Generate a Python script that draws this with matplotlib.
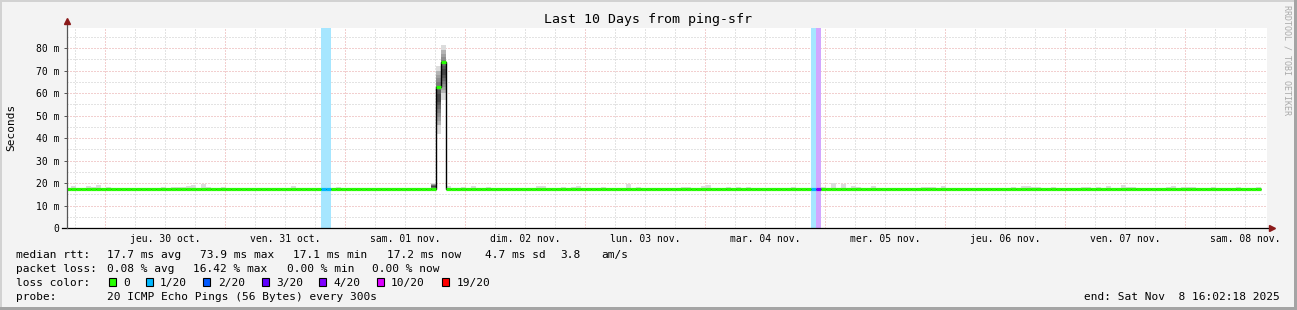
import numpy as np
import matplotlib.pyplot as plt
from matplotlib.patches import Rectangle
from matplotlib.colors import to_rgb

W, H = 1297, 310
MONO = 'DejaVu Sans Mono'

# --- data (one bin per hour, first partial bin starts at the left edge) ---
FIRST_BIN_H = 0.8      # hours from left edge to first full bin
MIDNIGHT_H = 7.6       # hours from left edge to first midnight

median = [17.3] * 74 + [62.8, 74.0] + [17.3] * 163

smoke_lo = [17.0] * 73 + [16.8, 42.0, 57.0] + [17.0] * 163
smoke_hi = [
    17.6, 18.7, 17.6, 17.6, 18.7, 18.3, 19.1, 17.6, 18.3, 17.6, 17.8, 17.8,
    17.6, 17.6, 17.6, 17.6, 17.6, 17.6, 17.6, 18.3, 17.6, 18.3, 18.3, 18.3,
    18.7, 19.1, 17.6, 19.6, 18.3, 17.6, 17.6, 18.3, 17.6, 17.6, 17.6, 17.6,
    17.6, 17.6, 17.6, 17.6, 17.6, 17.8, 17.8, 17.8, 17.6, 18.7, 17.8, 17.8,
    17.8, 17.6, 17.6, 17.6, 17.6, 17.6, 18.3, 17.6, 17.8, 17.6, 17.6, 17.6,
    17.6, 17.6, 17.6, 17.6, 17.8, 17.6, 17.8, 17.6, 17.8, 17.6, 17.8, 17.6,
    17.6, 20.2, 72.0, 81.5, 18.7, 17.6, 17.6, 18.3, 17.6, 18.7, 17.8, 17.8,
    18.3, 17.6, 17.6, 17.8, 17.6, 17.6, 17.8, 17.6, 17.6, 17.6, 18.7, 18.7,
    17.6, 17.6, 17.6, 18.3, 17.6, 18.3, 18.7, 17.6, 17.6, 17.6, 17.6, 18.3,
    17.6, 17.6, 17.6, 17.8, 19.6, 17.6, 18.3, 17.8, 17.6, 17.6, 17.6, 17.6,
    17.6, 17.6, 17.6, 18.3, 18.3, 17.6, 17.6, 18.7, 19.1, 17.6, 17.6, 17.8,
    18.3, 17.6, 18.3, 17.6, 18.3, 17.6, 17.6, 17.8, 17.6, 17.6, 17.8, 17.8,
    17.6, 18.3, 17.6, 17.6, 17.6, 17.6, 17.6, 18.3, 17.6, 20.0, 17.8, 19.6,
    17.6, 18.7, 18.3, 17.8, 17.8, 18.7, 17.6, 17.8, 17.6, 17.8, 17.8, 17.6,
    17.8, 17.6, 17.6, 18.3, 18.3, 18.3, 17.6, 18.7, 17.6, 17.6, 17.8, 17.8,
    17.6, 17.6, 17.8, 17.6, 17.6, 17.8, 17.6, 17.8, 17.6, 18.3, 17.6, 18.7,
    18.7, 18.3, 18.3, 17.6, 17.6, 18.3, 17.6, 17.6, 17.6, 17.6, 17.6, 18.3,
    18.3, 17.6, 18.3, 17.6, 18.7, 17.6, 17.6, 19.1, 18.3, 18.3, 17.6, 17.6,
    17.6, 17.6, 17.6, 17.6, 18.3, 18.7, 17.6, 18.3, 18.3, 18.3, 17.6, 17.8,
    17.6, 18.3, 17.6, 17.8, 17.8, 17.6, 18.3, 17.6, 17.6, 17.6, 18.3,
]
# dense part of the smoke (only the spike has a real spread)
core_lo = [17.3] * 73 + [17.2, 46.0, 60.0] + [17.3] * 163
core_hi = [17.3] * 73 + [19.6, 70.0, 79.0] + [17.3] * 163

loss = [0] * 51 + [1, 1] + [0] * 96 + [1, 4] + [0] * 88

LOSS_STEPS = [0, 1, 2, 3, 4, 10, 19]
LOSS_LABELS = ['0', '1/20', '2/20', '3/20', '4/20', '10/20', '19/20']
LOSS_COLORS = ['#26ff00', '#00b8ff', '#0059ff', '#5e00ff', '#7e00ff', '#dd00ff', '#ff0000']

DAY_LABELS = ['jeu. 30 oct.', 'ven. 31 oct.', 'sam. 01 nov.', 'dim. 02 nov.',
              'lun. 03 nov.', 'mar. 04 nov.', 'mer. 05 nov.', 'jeu. 06 nov.',
              'ven. 07 nov.', 'sam. 08 nov.']
Y_TICKS = [0, 10, 20, 30, 40, 50, 60, 70, 80]
Y_LABELS = ['0', '10 m', '20 m', '30 m', '40 m', '50 m', '60 m', '70 m', '80 m']


def fx(px):
    return px / W


def fy(py):
    return 1 - py / H


def loss_color(v):
    idx = max(i for i, s in enumerate(LOSS_STEPS) if v >= s)
    return LOSS_COLORS[idx]


def light(c, a=0.35):
    r, g, b = to_rgb(c)
    return (1 - a + a * r, 1 - a + a * g, 1 - a + a * b)


median = np.array(median)
smoke_lo = np.array(smoke_lo)
smoke_hi = np.array(smoke_hi)
core_lo = np.array(core_lo)
core_hi = np.array(core_hi)
edges = np.concatenate([[0.0], FIRST_BIN_H + np.arange(len(median))])
left = edges[:-1]
width = np.diff(edges)

fig = plt.figure(figsize=(W / 100, H / 100), dpi=100, facecolor='#f3f3f3')
ax = fig.add_axes([fx(67), 82 / H, 1200 / W, 200 / H])
ax.set_facecolor('white')
ax.set_xlim(0, 240)
ax.set_ylim(0, 89.0)
for sp in ax.spines.values():
    sp.set_visible(False)

# grid
dots = (0, (1, 2))
for y in np.arange(5, 89, 10):
    ax.axhline(y, color='#c8c8c8', lw=0.72, ls=dots, zorder=0)
for y in Y_TICKS[1:]:
    ax.axhline(y, color='#e6a0a0', lw=0.72, ls=dots, zorder=0)
midnights = MIDNIGHT_H + 24 * np.arange(10)
for x in np.arange(MIDNIGHT_H % 6, 240, 6):
    if not np.any(np.isclose(x, midnights)):
        ax.axvline(x, color='#c8c8c8', lw=0.72, ls=dots, zorder=0)
for x in midnights:
    ax.axvline(x, color='#e6a0a0', lw=0.72, ls=dots, zorder=0)

# loss bands
for l, w, v in zip(left, width, loss):
    if v > 0:
        ax.axvspan(l, l + w, color=light(loss_color(v)), lw=0, zorder=1)

# smoke
ax.bar(left, smoke_hi - smoke_lo, bottom=smoke_lo, width=width, align='edge',
       color='#dcdcdc', lw=0, zorder=2)
n_layers = 7
mid = (core_lo + core_hi) / 2
for j in range(n_layers):
    f = j / n_layers
    lo = core_lo + (mid - core_lo) * f
    hi = core_hi - (core_hi - mid) * f
    g = 0.7 - 0.5 * f
    ax.bar(left, hi - lo, bottom=lo, width=width, align='edge',
           color=(g, g, g), lw=0, zorder=3)

# median line
ax.stairs(median, edges, baseline=None, color='black', lw=1.0, zorder=4)
ax.hlines(median, left, left + width, colors=[loss_color(v) for v in loss],
          lw=2.3, zorder=5)

# axes lines and arrows
ax.plot([-5 / 1200, 1204 / 1200], [0, 0], transform=ax.transAxes,
        color='black', lw=0.9, clip_on=False, zorder=6)
ax.plot([0, 0], [0, 1.03], transform=ax.transAxes,
        color='#555555', lw=0.9, clip_on=False, zorder=6)
ax.plot([0], [1.035], transform=ax.transAxes, marker='^', ms=4,
        color='#8b1a1a', clip_on=False, zorder=7)
ax.plot([1205 / 1200], [0], transform=ax.transAxes, marker='>', ms=4,
        color='#8b1a1a', clip_on=False, zorder=7)

ax.set_yticks(Y_TICKS)
ax.set_yticklabels(Y_LABELS, family=MONO, fontsize=7)
ax.tick_params(axis='y', length=2, width=0.7, color='#555555', pad=3.5)
ax.set_xticks(midnights + 12)
ax.set_xticklabels(DAY_LABELS, family=MONO, fontsize=7)
ax.tick_params(axis='x', length=0, pad=4)

# texts
fig.text(fx(648), fy(19), 'Last 10 Days from ping-sfr', ha='center', va='center',
         family=MONO, fontsize=9.5)
fig.text(fx(11), fy(127), 'Seconds', rotation=90, ha='center', va='center',
         family=MONO, fontsize=8)
fig.text(fx(1287), fy(5), 'RRDTOOL / TOBI OETIKER', rotation=270, ha='center',
         va='top', family=MONO, fontsize=6, color='#aaaaaa')

rows = [
    (258.3, [(16, 'median rtt:'), (107.3, '17.7 ms avg'), (200, '73.9 ms max'),
             (293.3, '17.1 ms min'), (386.7, '17.2 ms now'), (485, '4.7 ms sd'),
             (560, '3.8'), (601, 'am/s')]),
    (272, [(16, 'packet loss:'), (107.3, '0.08 % avg'), (193.3, '16.42 % max'),
           (286.7, '0.00 % min'), (372.3, '0.00 % now')]),
    (286, [(16, 'loss color:')]),
    (299.7, [(16, 'probe:'), (107.3, '20 ICMP Echo Pings (56 Bytes) every 300s')]),
]
for y, items in rows:
    for x, s in items:
        fig.text(fx(x), fy(y), s, ha='left', va='baseline', family=MONO, fontsize=8)

sw_x = [108.7, 145.7, 203.3, 261.7, 319.3, 376.7, 442.3]
for x, lab, c in zip(sw_x, LOSS_LABELS, LOSS_COLORS):
    fig.add_artist(Rectangle((fx(x), fy(286.3)), 7 / W, 8 / H, transform=fig.transFigure,
                             facecolor=c, edgecolor='black', lw=0.8))
    fig.text(fx(x + 14.5), fy(286), lab, ha='left', va='baseline', family=MONO, fontsize=8)

fig.text(fx(1280), fy(299.7), 'end: Sat Nov  8 16:02:18 2025', ha='right', va='baseline',
         family=MONO, fontsize=8)

# frame around the image
fig.add_artist(Rectangle((0, 1 - 2 / H), 1, 2 / H, transform=fig.transFigure,
                         color='#d2d2d2', lw=0))
fig.add_artist(Rectangle((0, 0), 2 / W, 1, transform=fig.transFigure,
                         color='#d2d2d2', lw=0))
fig.add_artist(Rectangle((1 - 3 / W, 0), 3 / W, 1, transform=fig.transFigure,
                         color='#a4a4a4', lw=0))
fig.add_artist(Rectangle((0, 0), 1, 3 / H, transform=fig.transFigure,
                         color='#a4a4a4', lw=0))

fig.savefig('out.png', dpi=100, facecolor=fig.get_facecolor())
